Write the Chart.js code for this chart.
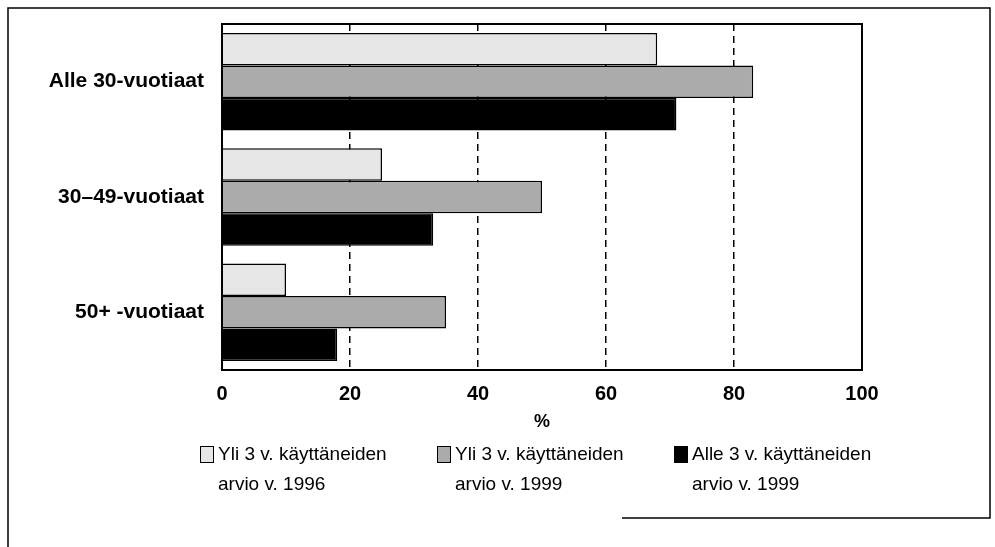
<!DOCTYPE html>
<html>
<head>
<meta charset="utf-8">
<script src="https://cdn.jsdelivr.net/npm/chart.js@4.4.0/dist/chart.umd.min.js"></script>
<style>
    html, body { margin: 0; background: #fff; }
</style>
</head>
<body>
<canvas id="chart" width="995" height="547"></canvas>
<script>
// Data
// ----------------------------------------------
const categories   = ['Alle 30-vuotiaat', '30–49-vuotiaat', '50+ -vuotiaat'];
const over3y1996   = [68, 25, 10];
const over3y1999   = [83, 50, 35];
const under3y1999  = [71, 33, 18];
const seriesLabels = [
    ['Yli 3 v. käyttäneiden', 'arvio v. 1996'],
    ['Yli 3 v. käyttäneiden', 'arvio v. 1999'],
    ['Alle 3 v. käyttäneiden', 'arvio v. 1999']
];
const xTicks = [0, 20, 40, 60, 80, 100];

const fontFamily = '"Liberation Sans", Arial, sans-serif';
const colors = ['#e6e6e6', '#ababab', '#000000'];

// Plot frame, page frame and two-line legend
// ----------------------------------------------
const decor = {
    id: 'decor',
    afterDraw(chart) {
        const ctx = chart.ctx, a = chart.chartArea;
        ctx.save();
        ctx.strokeStyle = '#000';
        ctx.lineWidth = 2;
        ctx.strokeRect(a.left, a.top, a.right - a.left, a.bottom - a.top);

        ctx.lineWidth = 1.5;
        ctx.beginPath();
        ctx.moveTo(8, 547);
        ctx.lineTo(8, 8);
        ctx.lineTo(990, 8);
        ctx.lineTo(990, 518);
        ctx.lineTo(622, 518);
        ctx.stroke();

        ctx.font = '19px ' + fontFamily;
        ctx.textBaseline = 'alphabetic';
        chart.data.datasets.forEach((ds, i) => {
            const x = 200 + i * 237;
            ctx.fillStyle = ds.backgroundColor;
            ctx.fillRect(x, 446, 13, 16);
            ctx.lineWidth = 1;
            ctx.strokeRect(x + 0.5, 446.5, 13, 16);
            ctx.fillStyle = '#000';
            ds.legendLines.forEach((line, j) => {
                ctx.fillText(line, x + 18, 460 + j * 30);
            });
        });
        ctx.restore();
    }
};

const datasets = [over3y1996, over3y1999, under3y1999].map((values, i) => ({
    label: seriesLabels[i].join(' '),
    legendLines: seriesLabels[i],
    data: values,
    backgroundColor: colors[i],
    borderColor: '#000',
    borderWidth: 1.5,
    categoryPercentage: 0.845,
    barPercentage: 1.0
}));

new Chart(document.getElementById('chart'), {
    type: 'bar',
    data: { labels: categories, datasets: datasets },
    options: {
        indexAxis: 'y',
        responsive: false,
        animation: false,
        layout: { padding: { left: 0, right: 133, top: 24, bottom: 112 } },
        plugins: {
            legend: { display: false },
            tooltip: { enabled: false }
        },
        scales: {
            x: {
                min: 0,
                max: 100,
                afterFit: scale => {
                    scale.height = 65;
                    scale.paddingLeft = 0;
                    scale.paddingRight = 0;
                },
                afterBuildTicks: scale => { scale.ticks = xTicks.map(v => ({ value: v })); },
                grid: {
                    color: '#000',
                    lineWidth: 1.5,
                    drawTicks: false
                },
                border: { display: false, dash: [7, 5] },
                ticks: {
                    color: '#000',
                    padding: 12,
                    font: { family: fontFamily, size: 20, weight: 'bold' }
                },
                title: {
                    display: true,
                    text: '%',
                    color: '#000',
                    padding: 2,
                    font: { family: fontFamily, size: 18, weight: 'bold' }
                }
            },
            y: {
                afterFit: scale => {
                    scale.width = 222;
                    scale.paddingTop = 0;
                    scale.paddingBottom = 0;
                },
                grid: { display: false, drawTicks: false },
                border: { display: false },
                ticks: {
                    color: '#000',
                    padding: 18,
                    font: { family: fontFamily, size: 21, weight: 'bold' }
                }
            }
        }
    },
    plugins: [decor]
});
</script>
</body>
</html>
